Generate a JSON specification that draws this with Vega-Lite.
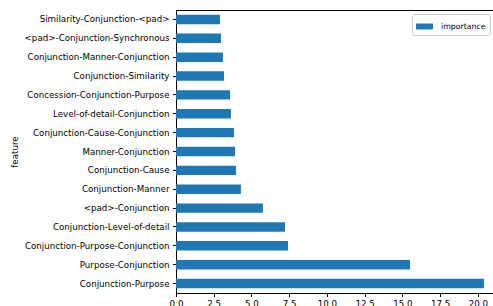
{
  "$schema": "https://vega.github.io/schema/vega-lite/v6.json",
  "width": 317,
  "height": 283,
  "autosize": {"type": "none"},
  "padding": {"left": 176, "top": 10, "right": 0, "bottom": 13},
  "background": "white",
  "config": {
    "font": "DejaVu Sans",
    "view": {"stroke": "black", "strokeWidth": 1},
    "axis": {"domainColor": "black", "tickColor": "black", "labelColor": "black", "titleColor": "black", "grid": false, "labelFont": "DejaVu Sans", "titleFont": "DejaVu Sans", "labelFontSize": 8.7, "titleFontSize": 8.7, "titleFontWeight": "normal", "tickSize": 3.5}
  },
  "data": {
    "values": [
      {"feature": "Similarity-Conjunction-<pad>", "importance": 2.91, "series": "importance"},
      {"feature": "<pad>-Conjunction-Synchronous", "importance": 2.98, "series": "importance"},
      {"feature": "Conjunction-Manner-Conjunction", "importance": 3.11, "series": "importance"},
      {"feature": "Conjunction-Similarity", "importance": 3.18, "series": "importance"},
      {"feature": "Concession-Conjunction-Purpose", "importance": 3.58, "series": "importance"},
      {"feature": "Level-of-detail-Conjunction", "importance": 3.64, "series": "importance"},
      {"feature": "Conjunction-Cause-Conjunction", "importance": 3.84, "series": "importance"},
      {"feature": "Manner-Conjunction", "importance": 3.91, "series": "importance"},
      {"feature": "Conjunction-Cause", "importance": 3.97, "series": "importance"},
      {"feature": "Conjunction-Manner", "importance": 4.30, "series": "importance"},
      {"feature": "<pad>-Conjunction", "importance": 5.76, "series": "importance"},
      {"feature": "Conjunction-Level-of-detail", "importance": 7.22, "series": "importance"},
      {"feature": "Conjunction-Purpose-Conjunction", "importance": 7.42, "series": "importance"},
      {"feature": "Purpose-Conjunction", "importance": 15.5, "series": "importance"},
      {"feature": "Conjunction-Purpose", "importance": 20.4, "series": "importance"}
    ]
  },
  "mark": {"type": "bar"},
  "encoding": {
    "y": {
      "field": "feature", "type": "nominal", "sort": null,
      "scale": {"paddingInner": 0.5, "paddingOuter": 0.25},
      "axis": {"title": "feature", "titlePadding": 5, "labelPadding": 3.5}
    },
    "x": {
      "field": "importance", "type": "quantitative",
      "scale": {"domain": [0, 21], "nice": false},
      "axis": {"title": null, "values": [0, 2.5, 5, 7.5, 10, 12.5, 15, 17.5, 20], "format": ".1f", "labelPadding": 3, "labelFlush": false}
    },
    "color": {
      "field": "series", "type": "nominal",
      "scale": {"range": ["#1f77b4"]},
      "legend": {
        "title": null, "orient": "none", "legendX": 236, "legendY": 4,
        "symbolType": "M-1,-0.35H1V0.35H-1Z", "symbolSize": 289, "symbolStrokeWidth": 0,
        "labelFontSize": 7.8, "labelFont": "DejaVu Sans", "labelColor": "black", "labelOffset": 8,
        "strokeColor": "#cccccc", "fillColor": "white", "cornerRadius": 2, "padding": 4
      }
    }
  }
}
